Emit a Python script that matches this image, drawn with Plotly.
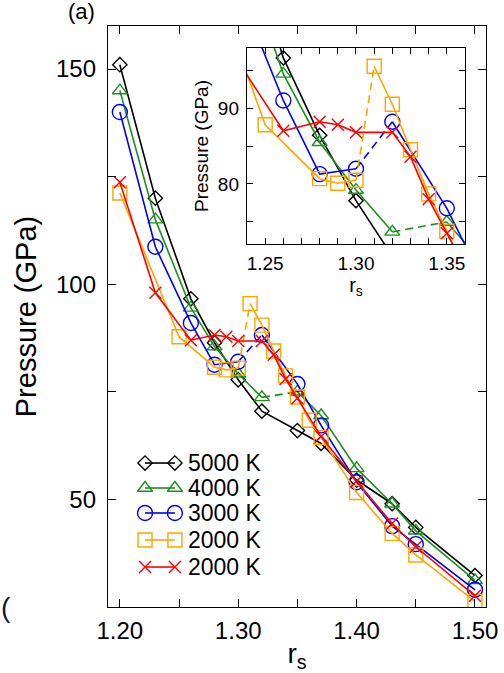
import plotly.graph_objects as go

# Wigner-Seitz radius r_s sampled for each isotherm
rs_5000 = [1.20, 1.23, 1.26, 1.28, 1.30, 1.32, 1.35, 1.37, 1.40, 1.43, 1.45, 1.50]
p_5000 = [151.0, 120.0, 96.6, 86.4, 77.8, 70.5, 66.0, 63.0, 54.5, 49.0, 43.5, 32.3]

rs_4000 = [1.20, 1.23, 1.26, 1.28, 1.30, 1.32, 1.35, 1.37, 1.40, 1.43, 1.45, 1.50]
p_4000 = [145.0, 115.0, 94.5, 85.5, 79.2, 73.7, 75.0, 69.5, 57.2, 49.0, 42.7, 31.2]

rs_3000 = [1.20, 1.23, 1.26, 1.28, 1.30, 1.32, 1.35, 1.37, 1.40, 1.43, 1.45, 1.50]
p_3000 = [140.0, 108.7, 91.0, 81.3, 82.0, 88.2, 76.8, 67.2, 54.0, 43.8, 39.6, 29.0]

rs_2000a = [1.20, 1.25, 1.28, 1.29, 1.30, 1.31, 1.32, 1.33, 1.34, 1.35, 1.36, 1.37, 1.40, 1.43, 1.45, 1.50]
p_2000a = [121.2, 87.8, 80.7, 80.1, 80.5, 95.5, 90.5, 84.5, 78.7, 73.8, 68.4, 64.4, 51.6, 42.1, 37.1, 26.3]

rs_2000b = [1.20, 1.23, 1.26, 1.28, 1.29, 1.30, 1.32, 1.33, 1.34, 1.35, 1.37, 1.40, 1.43, 1.45, 1.50]
p_2000b = [123.7, 98.0, 87.0, 88.2, 87.8, 86.8, 86.8, 83.6, 78.0, 73.5, 64.6, 54.2, 44.4, 39.0, 27.6]

labels = ["5000 K", "4000 K", "3000 K", "2000 K", "2000 K"]

FONT = "Liberation Sans, Arial, Helvetica, sans-serif"

# (label, r_s, pressure, colour, symbol, marker size, index of dashed segment start)
series = [
    (labels[0], rs_5000, p_5000, "#000000", "diamond-open", 11, None),
    (labels[1], rs_4000, p_4000, "#1f8f1f", "triangle-up-open", 13, 5),
    (labels[2], rs_3000, p_3000, "#0000ff", "circle-open", 15, 4),
    (labels[3], rs_2000a, p_2000a, "#ffa500", "square-open", 14, 4),
    (labels[4], rs_2000b, p_2000b, "#ff0000", "x-thin-open", 12, None),
]

fig = go.Figure()


def add_series(xa, ya, name, r, p, color, symbol, size, gap):
    if gap is None:
        xs, ys = list(r), list(p)
    else:
        xs = list(r[:gap + 1]) + [None] + list(r[gap + 1:])
        ys = list(p[:gap + 1]) + [None] + list(p[gap + 1:])
        fig.add_trace(go.Scatter(
            x=r[gap:gap + 2], y=p[gap:gap + 2], xaxis=xa, yaxis=ya,
            mode="lines", line=dict(color=color, width=1.6, dash="8px,5px"),
            showlegend=False, hoverinfo="skip"))
    fig.add_trace(go.Scatter(
        x=xs, y=ys, xaxis=xa, yaxis=ya, name=name, mode="lines+markers",
        connectgaps=False,
        line=dict(color=color, width=1.6),
        marker=dict(symbol=symbol, size=size, color=color,
                    line=dict(color=color, width=1.4)),
        showlegend=False))


for s in series:
    add_series("x", "y", *s)
for s in series:
    add_series("x2", "y2", *s)

# hand-built legend: line with a marker at each end, drawn on an overlay axis
leg_rows = [0.2478, 0.2048, 0.1618, 0.1153, 0.0688]
leg_x0, leg_x1, leg_tx = 0.098, 0.177, 0.208
for (name, r, p, color, symbol, size, gap), ly in zip(series, leg_rows):
    fig.add_trace(go.Scatter(
        x=[leg_x0, leg_x1], y=[ly, ly], xaxis="x3", yaxis="y3",
        mode="lines+markers", line=dict(color=color, width=1.6),
        marker=dict(symbol=symbol, size=size, color=color,
                    line=dict(color=color, width=1.4)),
        showlegend=False, hoverinfo="skip"))
    fig.add_annotation(x=leg_tx, y=ly, xref="paper", yref="paper",
                       text=name, showarrow=False, xanchor="left",
                       yanchor="middle", borderpad=0,
                       font=dict(family=FONT, size=23, color="black"))

axis_common = dict(showline=True, linecolor="black", linewidth=1.4, mirror="allticks",
                   ticks="inside", tickcolor="black", showgrid=False, zeroline=False,
                   automargin=False)

fig.update_layout(
    width=504, height=673,
    margin=dict(l=108, r=18, t=26, b=66),
    paper_bgcolor="white", plot_bgcolor="white",
    showlegend=False,
    font=dict(family=FONT, color="black"),
    xaxis=dict(**axis_common, range=[1.19, 1.5093], tick0=1.2, dtick=0.1,
               tickformat=".2f", ticklen=8, tickwidth=1.2,
               minor=dict(dtick=0.05, tick0=1.2, ticklen=8, ticks="inside",
                          tickcolor="black", tickwidth=1.2),
               tickfont=dict(size=24), ticklabelstandoff=2,
               title=dict(text="r<sub>s</sub>", font=dict(size=28), standoff=2)),
    yaxis=dict(**axis_common, range=[25, 160], tick0=0, dtick=50,
               ticklen=8, tickwidth=1.2,
               minor=dict(dtick=25, tick0=0, ticklen=8, ticks="inside",
                          tickcolor="black", tickwidth=1.2),
               tickfont=dict(size=24), ticklabelstandoff=6,
               title=dict(text="Pressure (GPa)", font=dict(size=29), standoff=10)),
    xaxis2=dict(**axis_common, domain=[0.3677, 0.9444], anchor="y2",
                range=[1.24, 1.36], tick0=1.25, dtick=0.05, tickformat=".2f",
                ticklen=6, tickwidth=1.1,
                minor=dict(dtick=0.01, tick0=1.25, ticklen=6, ticks="inside",
                           tickcolor="black", tickwidth=1.1),
                tickfont=dict(size=19), ticklabelstandoff=2,
                title=dict(text="r<sub>s</sub>", font=dict(size=20), standoff=0)),
    yaxis2=dict(**axis_common, domain=[0.6248, 0.9621], anchor="x2",
                range=[72.1, 97.9], tick0=0, dtick=10,
                ticklen=6, tickwidth=1.1,
                minor=dict(dtick=5, tick0=0, ticklen=6, ticks="inside",
                           tickcolor="black", tickwidth=1.1),
                tickfont=dict(size=19), ticklabelstandoff=3,
                title=dict(text="Pressure (GPa)", font=dict(size=19), standoff=4)),
    xaxis3=dict(overlaying="x", range=[0, 1], visible=False, anchor="y3"),
    yaxis3=dict(overlaying="y", range=[0, 1], visible=False, anchor="x3"),
)

# panel labels
fig.add_annotation(x=-0.07, y=1.0, xref="paper", yref="paper", text="(a)",
                   showarrow=False, xanchor="center", yanchor="bottom",
                   font=dict(family=FONT, size=22, color="black"))
fig.add_annotation(x=-0.2857, y=0.0, xref="paper", yref="paper", text="(",
                   showarrow=False, xanchor="left", yanchor="middle", borderpad=0,
                   font=dict(family=FONT, size=28, color="#111833"))

fig.write_html("out.html")
